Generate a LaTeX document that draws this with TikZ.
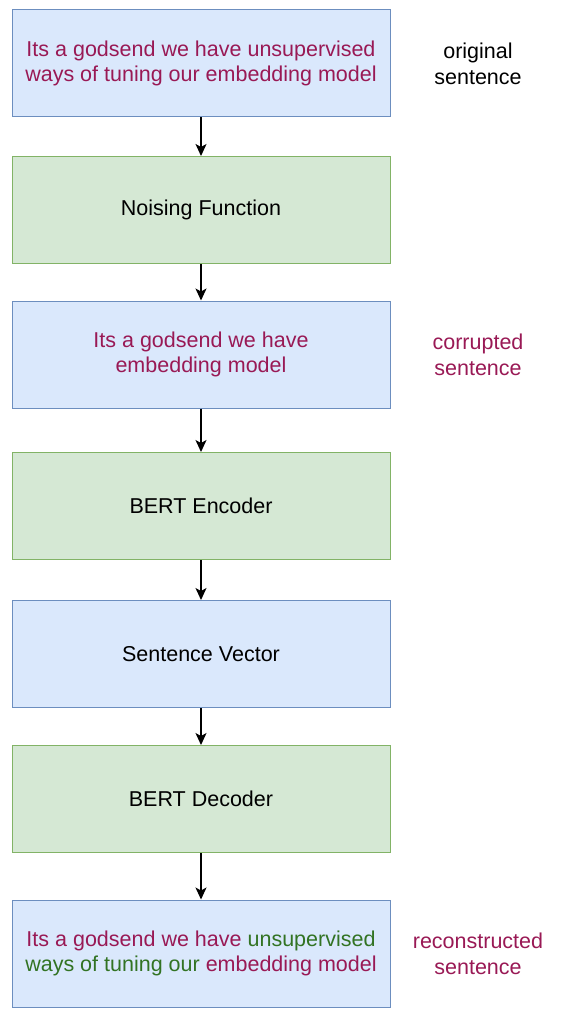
\documentclass[tikz,border=0pt]{standalone}
\usepackage{fontspec}
\setmainfont{Liberation Sans}
\usetikzlibrary{arrows.meta}
\definecolor{boxblue}{RGB}{218,232,252}
\definecolor{lineblue}{RGB}{108,142,191}
\definecolor{boxgreen}{RGB}{213,232,212}
\definecolor{linegreen}{RGB}{130,179,102}
\definecolor{sentred}{RGB}{153,25,85}
\definecolor{sentgreen}{RGB}{50,115,35}

\tikzset{
    bluebox/.style={draw=lineblue, fill=boxblue, line width=1pt, minimum width=378pt, minimum height=107pt, inner sep=0pt, align=center},
    greenbox/.style={draw=linegreen, fill=boxgreen, line width=1pt, minimum width=378pt, minimum height=107pt, inner sep=0pt, align=center},
    sidenote/.style={align=center},
    flow/.style={-{Stealth[length=12pt, width=11pt, inset=3pt]}, line width=1.3pt}
}

\begin{document}
\begin{tikzpicture}[x=1pt, y=-1pt, font=\fontsize{21.5}{25.8}\selectfont]
    \useasboundingbox (0,0) rectangle (563,1024);

    % sentence in
    \node[bluebox, text=sentred] (orig) at (201,63.5)
        {Its a godsend we have unsupervised\\ways of tuning our embedding model};
    \node[sidenote] (origlbl) at (478,63.5) {original\\sentence};

    % noise
    \node[greenbox] (noise) at (201,210) {Noising Function};
    \node[bluebox, text=sentred] (corrupt) at (201,354.5)
        {Its a godsend we have\\embedding model};
    \node[sidenote, text=sentred] (corruptlbl) at (478,354.5) {corrupted\\sentence};

    % encoder / decoder
    \node[greenbox] (enc) at (201,506) {BERT Encoder};
    \node[bluebox] (vec) at (201,654) {Sentence Vector};
    \node[greenbox] (dec) at (201,799) {BERT Decoder};

    % sentence out
    \node[bluebox] (recon) at (201,953.5)
        {\textcolor{sentred}{Its a godsend we have} \textcolor{sentgreen}{unsupervised}\\\textcolor{sentgreen}{ways of tuning our} \textcolor{sentred}{embedding model}};
    \node[sidenote, text=sentred] (reconlbl) at (478,953.5) {reconstructed\\sentence};

    \draw[flow] (orig) -- (noise);
    \draw[flow] (noise) -- (corrupt);
    \draw[flow] (corrupt) -- (enc);
    \draw[flow] (enc) -- (vec);
    \draw[flow] (vec) -- (dec);
    \draw[flow] (dec) -- (recon);
\end{tikzpicture}
\end{document}
